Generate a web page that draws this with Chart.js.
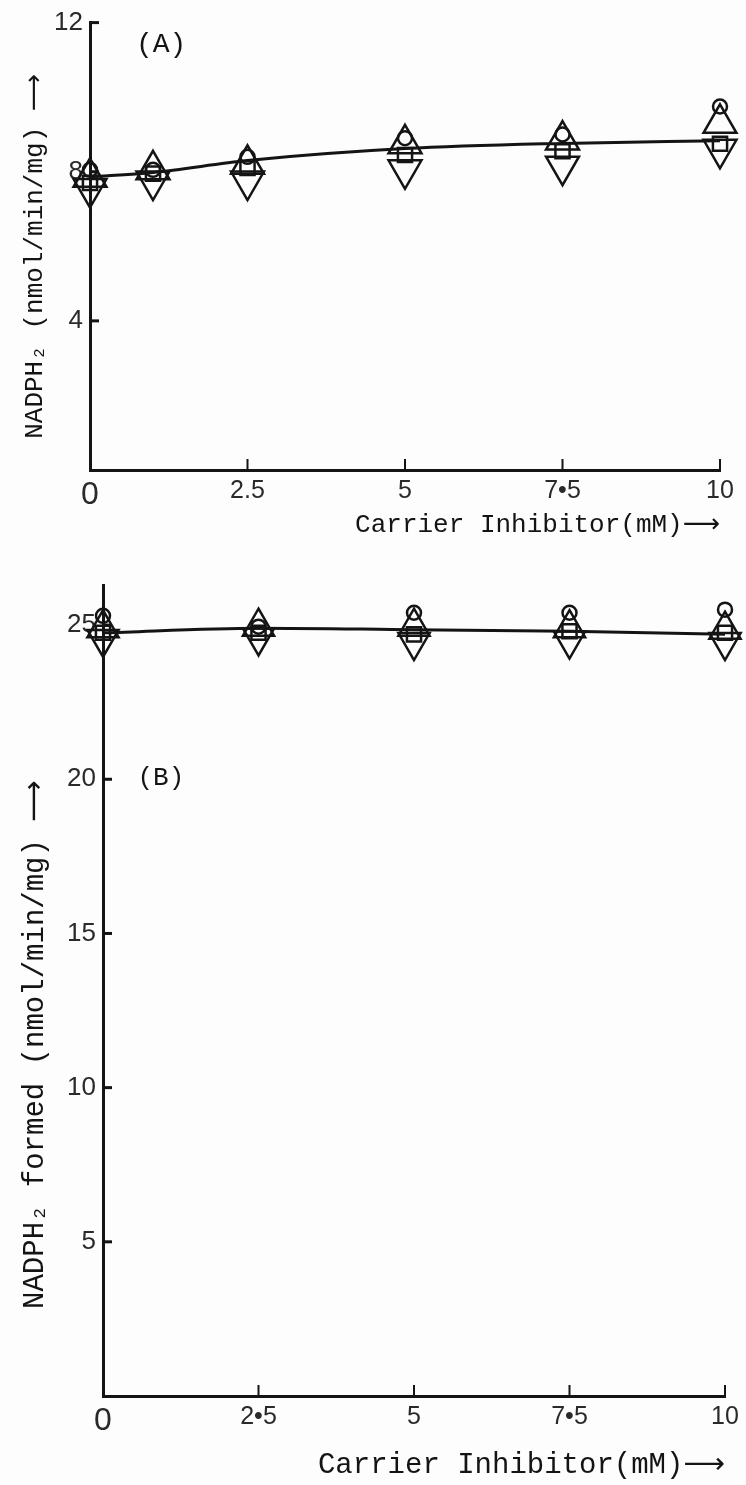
<!DOCTYPE html>
<html>
<head>
<meta charset="utf-8">
<script src="https://cdn.jsdelivr.net/npm/chart.js@4.4.1/dist/chart.umd.min.js"></script>
<style>
  html, body { margin: 0; padding: 0; background: #fff; }
  #wrap { position: relative; width: 746px; height: 1485px; overflow: hidden; background: #fdfdfd; }
  canvas { position: absolute; left: 0; }
  #chartA { top: 0; }
  #chartB { top: 560px; }
</style>
</head>
<body>
<div id="wrap">
  <canvas id="chartA" width="746" height="560"></canvas>
  <canvas id="chartB" width="746" height="925"></canvas>
</div>
<script>
// ---- data ----
// panel A
var xA = [0, 1, 2.5, 5, 7.5, 10];
var fitA = [7.86, 7.98, 8.3, 8.62, 8.76, 8.83];
var circleA = [8.05, 8.05, 8.4, 8.9, 9.0, 9.75];
var upTriA = [7.85, 8.05, 8.2, 8.75, 8.85, 9.3];
var downTriA = [7.55, 7.75, 7.75, 8.05, 8.15, 8.6];
var squareA = [7.7, 7.95, 8.1, 8.45, 8.55, 8.75];

// panel B
var xB = [0, 2.5, 5, 7.5, 10];
var fitB = [24.75, 24.9, 24.85, 24.8, 24.7];
var circleB = [25.3, 24.95, 25.4, 25.4, 25.5];
var upTriB = [24.9, 24.95, 24.95, 24.9, 24.85];
var downTriB = [24.55, 24.6, 24.45, 24.5, 24.45];
var squareB = [24.75, 24.75, 24.7, 24.8, 24.75];

// ticks
var xTickValues = [0, 2.5, 5, 7.5, 10];
var xTickLabelsA = ['0', '2.5', '5', '7\u20225', '10'];
var xTickLabelsB = ['0', '2\u20225', '5', '7\u20225', '10'];
var yTicksA = [4, 8, 12];
var yTicksB = [5, 10, 15, 20, 25];

var INK = '#141414';
var TYPE = '"Liberation Mono", "DejaVu Sans", monospace';
var LETTER = '"Liberation Sans", "DejaVu Sans", sans-serif';

function pts(xs, ys) {
  return xs.map(function (x, i) { return { x: x, y: ys[i] }; });
}

// short tick marks pointing into the plot, like the hand drawn axes
var inwardTicks = {
  id: 'inwardTicks',
  beforeDatasetsDraw: function (chart) {
    var ctx = chart.ctx, area = chart.chartArea;
    var xs = chart.scales.x, ys = chart.scales.y;
    ctx.save();
    ctx.strokeStyle = INK;
    ctx.lineWidth = 3;
    ys.ticks.forEach(function (t) {
      var py = ys.getPixelForValue(t.value);
      ctx.beginPath();
      ctx.moveTo(area.left, py);
      ctx.lineTo(area.left + 9, py);
      ctx.stroke();
    });
    ctx.lineWidth = 2;
    xs.ticks.forEach(function (t) {
      if (t.value === 0) return;
      var px = xs.getPixelForValue(t.value);
      ctx.beginPath();
      ctx.moveTo(px, area.bottom);
      ctx.lineTo(px, area.bottom - 11);
      ctx.stroke();
    });
    ctx.restore();
  }
};

// "(A)" / "(B)" panel letters, placed in data units
var panelLetter = {
  id: 'panelLetter',
  afterDraw: function (chart, args, opts) {
    if (!opts.text) return;
    var ctx = chart.ctx;
    ctx.save();
    ctx.fillStyle = INK;
    ctx.font = opts.size + 'px ' + TYPE;
    ctx.textAlign = 'center';
    ctx.textBaseline = 'middle';
    ctx.fillText(opts.text, chart.scales.x.getPixelForValue(opts.x), chart.scales.y.getPixelForValue(opts.y));
    ctx.restore();
  }
};

function markerSets(xs, circ, up, down, sq, triR) {
  var base = { showLine: false, borderColor: INK, backgroundColor: 'rgba(0,0,0,0)', borderWidth: 2.5, clip: false };
  return [
    Object.assign({ data: pts(xs, circ), pointStyle: 'circle', pointRadius: 7 }, base),
    Object.assign({ data: pts(xs, up), pointStyle: 'triangle', pointRadius: triR }, base),
    Object.assign({ data: pts(xs, down), pointStyle: 'triangle', pointRotation: 180, pointRadius: triR }, base),
    Object.assign({ data: pts(xs, sq), pointStyle: 'rect', pointRadius: 10 }, base)
  ];
}

function makePanel(id, o) {
  var fitLine = {
    type: 'line', data: pts(o.xs, o.fit), showLine: true, borderColor: INK, borderWidth: 3,
    pointRadius: 0, tension: 0.4, cubicInterpolationMode: 'monotone', fill: false, clip: false
  };
  return new Chart(document.getElementById(id), {
    type: 'scatter',
    data: { datasets: [fitLine].concat(markerSets(o.xs, o.circle, o.up, o.down, o.square, o.triR)) },
    options: {
      responsive: false,
      animation: false,
      events: [],
      devicePixelRatio: 1,
      layout: { padding: { left: 0, top: o.top, right: o.right, bottom: 0 } },
      plugins: {
        legend: { display: false },
        tooltip: { enabled: false },
        panelLetter: o.letter
      },
      scales: {
        x: {
          type: 'linear', min: 0, max: 10,
          grid: { display: false, drawTicks: false },
          border: { display: true, color: INK, width: 3 },
          afterBuildTicks: function (s) { s.ticks = xTickValues.map(function (v) { return { value: v }; }); },
          afterFit: function (s) { s.height = o.xAxisH; },
          ticks: {
            color: '#2a2a2a', padding: 6, maxRotation: 0, autoSkip: false,
            font: function (c) { return c.index === 0 ? { family: LETTER, size: 32 } : { family: LETTER, size: 25 }; },
            callback: function (v, i) { return o.xLabels[i]; }
          },
          title: {
            display: true, text: 'Carrier Inhibitor(mM)\u27F6', align: 'end', color: INK,
            font: { family: TYPE, size: o.typeSize }, padding: { top: 0, bottom: o.xTitlePad }
          }
        },
        y: {
          type: 'linear', min: 0, max: o.yMax,
          grid: { display: false, drawTicks: false },
          border: { display: true, color: INK, width: 3 },
          afterBuildTicks: function (s) { s.ticks = o.yTicks.map(function (v) { return { value: v }; }); },
          afterFit: function (s) { s.width = o.yAxisW; },
          ticks: {
            color: '#2a2a2a', padding: 7, autoSkip: false,
            font: { family: LETTER, size: 26 },
            callback: function (v) { return String(v); }
          },
          title: {
            display: true, text: o.yTitle, align: 'start', color: INK,
            font: { family: TYPE, size: o.typeSize }, padding: { top: o.yTitlePad, bottom: 0 }
          }
        }
      }
    },
    plugins: [inwardTicks, panelLetter]
  });
}

makePanel('chartA', {
  xs: xA, fit: fitA, circle: circleA, up: upTriA, down: downTriA, square: squareA, triR: 19,
  top: 15, right: 26, yAxisW: 90, xAxisH: 90, xTitlePad: 19, yTitlePad: 20, typeSize: 26, yMax: 12,
  yTicks: yTicksA, xLabels: xTickLabelsA,
  yTitle: '  NADPH\u2082 (nmol/min/mg) \u27F6',
  letter: { text: '(A)', x: 1.13, y: 11.42, size: 28 }
});

makePanel('chartB', {
  xs: xB, fit: fitB, circle: circleB, up: upTriB, down: downTriB, square: squareB, triR: 18,
  top: 25, right: 21, yAxisW: 103, xAxisH: 89, xTitlePad: 2, yTitlePad: 18, typeSize: 29, yMax: 26.3,
  yTicks: yTicksB, xLabels: xTickLabelsB,
  yTitle: '     NADPH\u2082 formed (nmol/min/mg) \u27F6',
  letter: { text: '(B)', x: 0.93, y: 20.04, size: 26 }
});
</script>
</body>
</html>
